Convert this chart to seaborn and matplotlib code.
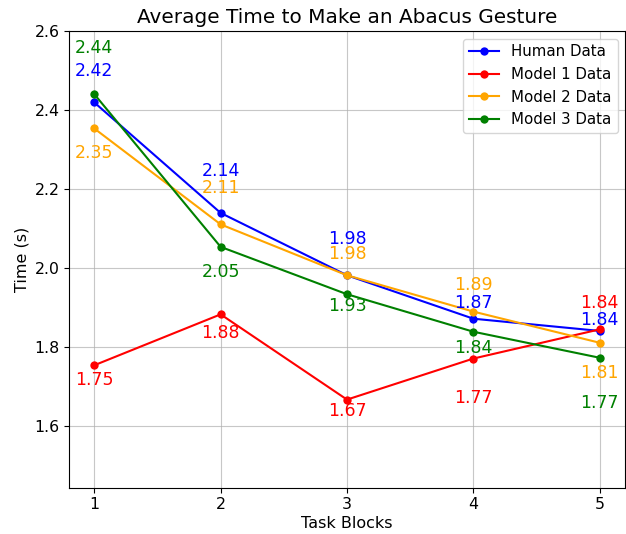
import matplotlib
matplotlib.use("Agg")
import matplotlib.pyplot as plt
import seaborn as sns
import pandas as pd

blocks = [1, 2, 3, 4, 5]
human = [2.419, 2.139, 1.981, 1.871, 1.840]
model1 = [1.753, 1.882, 1.666, 1.770, 1.844]
model2 = [2.353, 2.110, 1.981, 1.889, 1.810]
model3 = [2.440, 2.053, 1.933, 1.838, 1.772]
series_names = ["Human Data", "Model 1 Data", "Model 2 Data", "Model 3 Data"]
colors = ["blue", "red", "orange", "green"]

# label vertical offsets (data units) as seen in the reference
label_offsets = [
    [0.080, 0.106, 0.093, 0.041, 0.028],
    [-0.037, -0.048, -0.030, -0.101, 0.067],
    [-0.062, 0.093, 0.055, 0.067, -0.077],
    [0.118, -0.063, -0.029, -0.040, -0.115],
]

fig = plt.figure(figsize=(6.26, 5.34), dpi=100)
ax = fig.add_axes([69 / 626, 1 - 488 / 534, (625 - 69) / 626, (488 - 31) / 534])

all_series = [human, model1, model2, model3]
for name, vals, col, offs in zip(series_names, all_series, colors, label_offsets):
    df = pd.DataFrame({"block": blocks, "time": vals})
    sns.lineplot(data=df, x="block", y="time", color=col, marker="o",
                 markersize=6, markeredgewidth=0, linewidth=1.5, label=name, ax=ax)
    for b, v, o in zip(blocks, vals, offs):
        ax.text(b, v + o, f"{v:.2f}", color=col, ha="center", va="center", fontsize=12.5)

ax.set_xlim(0.8, 5.2)
ax.set_ylim(1.442, 2.6)
ax.set_xticks(blocks)
ax.set_yticks([1.6, 1.8, 2.0, 2.2, 2.4, 2.6])
ax.tick_params(labelsize=11.3, pad=3.3, length=3.4)
ax.grid(True, color="#b0b0b0", linewidth=0.8, alpha=0.7)
ax.set_title("Average Time to Make an Abacus Gesture", fontsize=14.4, pad=5.5)
ax.set_xlabel("Task Blocks", fontsize=11.5, labelpad=3)
ax.set_ylabel("Time (s)", fontsize=11.5, labelpad=3.5)
ax.legend(loc="upper right", fontsize=10.8)

fig.savefig("out.png", dpi=100)
